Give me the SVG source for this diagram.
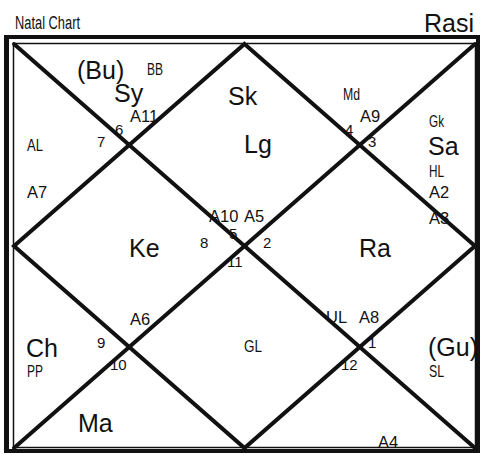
<svg xmlns="http://www.w3.org/2000/svg" width="482" height="454" viewBox="0 0 482 454">
<style>
text{font-family:"Liberation Sans",Arial,sans-serif;fill:#111}
.big{font-size:25px}
.sm{font-size:16.5px}
.num{font-size:15px}
.cn{font-size:17px}
.ln{stroke:#111;fill:none;stroke-width:4;stroke-linecap:round}
</style>
<rect width="482" height="454" fill="#fff"/>
<g id="title">
<text x="15" y="29" style="font-size:18px" textLength="65" lengthAdjust="spacingAndGlyphs">Natal Chart</text>
<text x="474" y="32" style="font-size:25px" text-anchor="end">Rasi</text>
</g>
<g id="connectors">
<rect x="7" y="37" width="471" height="414" fill="none" stroke="#111" stroke-width="4"/>
<line x1="6" y1="35" x2="6" y2="453" stroke="#111" stroke-width="4"/>
<rect x="13.5" y="43.5" width="462" height="404" fill="none" stroke="#111" stroke-width="1.5"/>
<line class="ln" x1="14" y1="44" x2="475" y2="448"/>
<line class="ln" x1="475" y1="44" x2="14" y2="448"/>
<polygon class="ln" points="244.5,44 475,246 244.5,448 14,246"/>
</g>
<g id="house-top-left">
<text class="big" x="77" y="79">(Bu)</text>
<text class="cn" x="147" y="75" textLength="16" lengthAdjust="spacingAndGlyphs">BB</text>
<text class="big" x="114" y="102">Sy</text>
<text class="sm" x="130" y="122">A11</text>
<text class="num" x="115" y="135">6</text>
</g>
<g id="house-left-upper">
<text class="num" x="97" y="147">7</text>
<text class="cn" x="27" y="151" textLength="16" lengthAdjust="spacingAndGlyphs">AL</text>
<text class="sm" x="27" y="198">A7</text>
</g>
<g id="house-top">
<text class="big" x="228" y="105">Sk</text>
<text class="big" x="244" y="153">Lg</text>
<text class="sm" x="209" y="222">A10</text>
<text class="sm" x="244" y="222">A5</text>
<text class="num" x="229" y="239">5</text>
</g>
<g id="house-top-right">
<text class="cn" x="343" y="100" textLength="17" lengthAdjust="spacingAndGlyphs">Md</text>
<text class="sm" x="360" y="122">A9</text>
<text class="num" x="345" y="135">4</text>
</g>
<g id="house-right-upper">
<text class="num" x="368" y="147">3</text>
<text class="cn" x="429" y="127" textLength="15" lengthAdjust="spacingAndGlyphs">Gk</text>
<text class="big" x="428" y="155">Sa</text>
<text class="cn" x="429" y="177" textLength="15" lengthAdjust="spacingAndGlyphs">HL</text>
<text class="sm" x="429" y="198">A2</text>
<text class="sm" x="429" y="224">A3</text>
</g>
<g id="house-left">
<text class="big" x="129" y="257">Ke</text>
<text class="num" x="200" y="248">8</text>
</g>
<g id="house-right">
<text class="num" x="263" y="248">2</text>
<text class="big" x="359" y="257">Ra</text>
</g>
<g id="house-bottom">
<text class="num" x="227" y="267">11</text>
<text class="cn" x="244" y="352" textLength="18" lengthAdjust="spacingAndGlyphs">GL</text>
</g>
<g id="house-left-lower">
<text class="sm" x="130" y="325">A6</text>
<text class="num" x="97" y="348">9</text>
<text class="big" x="26" y="357">Ch</text>
<text class="cn" x="27" y="377" textLength="16" lengthAdjust="spacingAndGlyphs">PP</text>
</g>
<g id="house-bottom-left">
<text class="num" x="110" y="370">10</text>
<text class="big" x="78" y="432">Ma</text>
</g>
<g id="house-bottom-right">
<text class="num" x="341" y="370">12</text>
<text class="sm" x="378" y="448">A4</text>
</g>
<g id="house-right-lower">
<text class="sm" x="326" y="323">UL</text>
<text class="sm" x="359" y="323">A8</text>
<text class="num" x="368" y="348">1</text>
<text class="big" x="428" y="356">(Gu)</text>
<text class="cn" x="429" y="377" textLength="15" lengthAdjust="spacingAndGlyphs">SL</text>
</g>
</svg>
